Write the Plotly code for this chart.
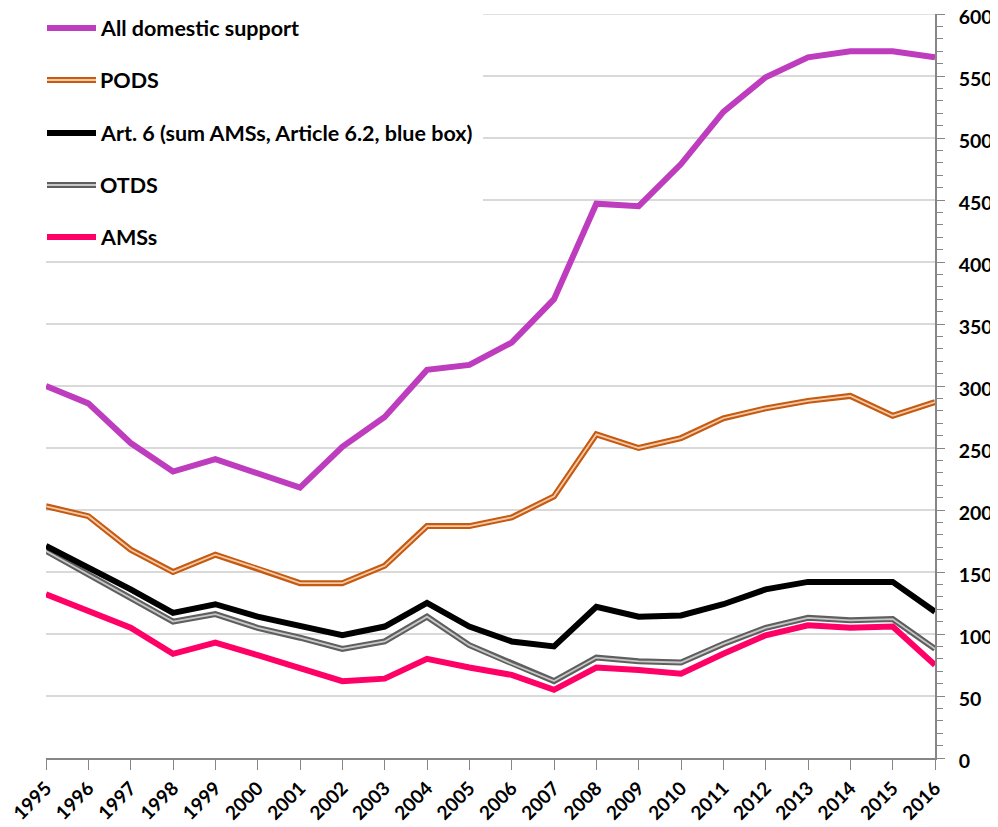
import plotly.graph_objects as go

years = list(range(1995, 2017))
all_domestic = [300, 286, 254, 231, 241, 229, 218, 251, 275, 313, 317, 335, 370, 447, 445, 479, 521, 549, 565, 570, 570, 565]
pods = [203, 195, 168, 150, 164, 153, 141, 141, 155, 187, 187, 194, 211, 261, 250, 258, 274, 282, 288, 292, 276, 287]
art6 = [171, 154, 136, 117, 124, 114, 106, 99, 106, 125, 106, 94, 90, 122, 114, 115, 124, 136, 142, 142, 142, 118]
otds = [167, 148, 129, 110, 116, 105, 97, 88, 94, 114, 91, 76, 62, 81, 78, 77, 92, 105, 113, 111, 112, 88]
amss = [132, 118, 105, 84, 93, 83, 73, 62, 64, 80, 73, 67, 55, 73, 71, 68, 84, 99, 107, 105, 106, 75]

names = ["All domestic support", "PODS", "Art. 6 (sum AMSs, Article 6.2, blue box)", "OTDS", "AMSs"]
colors = {"all": "#BE3CBE", "pods": "#C55A11", "pods_in": "#F6C9A8", "art6": "#000000",
          "otds": "#5F5F5F", "otds_in": "#C8C8C8", "amss": "#FF0066"}

FONT = "Lato"
OFF = 8  # page body margin of the browser
W, H = 998 - OFF, 827 - OFF
ml, mr, mt, mb = 46 - OFF, 63, 14 - OFF, 69
pw, ph = W - ml - mr, H - mt - mb
YMAX = 600

fig = go.Figure()

def line(y, color, width, name, show=False):
    fig.add_trace(go.Scatter(x=years, y=y, mode="lines", name=name, showlegend=show,
                             line=dict(color=color, width=width), hoverinfo="x+y+name"))

line(otds, colors["otds"], 6, names[3])
line(otds, colors["otds_in"], 1.8, names[3])
line(art6, colors["art6"], 6, names[2])
line(amss, colors["amss"], 6, names[4])
line(pods, colors["pods"], 6, names[1])
line(pods, colors["pods_in"], 1.8, names[1])
line(all_domestic, colors["all"], 6, names[0])

# manual legend (positions given in screen pixels)
def px2x(px):
    return (px - OFF - ml) / pw

def py2y(py):
    return (H - mb - (py - OFF)) / ph

shapes = [
    # top gridline (plotly omits the one on the plot edge)
    dict(type="line", xref="paper", yref="y", x0=0, x1=1, y0=YMAX, y1=YMAX,
         line=dict(color="#D9D9D9", width=1.5), layer="below"),
    # white legend background hiding the gridlines
    dict(type="rect", xref="paper", yref="paper", x0=px2x(46), x1=px2x(483),
         y0=py2y(258), y1=1.02, fillcolor="white", line=dict(width=0), layer="above"),
]
annotations = []
leg_y = [28, 80, 133, 185, 237]
leg_styles = [
    [(colors["all"], 6)],
    [(colors["pods"], 6), (colors["pods_in"], 1.8)],
    [(colors["art6"], 6)],
    [(colors["otds"], 6), (colors["otds_in"], 1.8)],
    [(colors["amss"], 6)],
]
for nm, yy, st in zip(names, leg_y, leg_styles):
    for c, w in st:
        shapes.append(dict(type="line", xref="paper", yref="paper", x0=px2x(47), x1=px2x(96),
                           y0=py2y(yy), y1=py2y(yy), line=dict(color=c, width=w), layer="above"))
    annotations.append(dict(text=nm, xref="paper", yref="paper", x=px2x(98), y=py2y(yy),
                            xanchor="left", yanchor="middle", showarrow=False,
                            font=dict(family=FONT, size=21.5, color="#000", weight="bold")))

fig.update_layout(
    width=W, height=H,
    margin=dict(l=ml, r=mr, t=mt, b=mb, autoexpand=False),
    plot_bgcolor="white", paper_bgcolor="white",
    showlegend=False,
    shapes=shapes, annotations=annotations,
    font=dict(family=FONT, size=20, color="#000"),
)
fig.update_xaxes(
    range=[1995, 2016], tickmode="array", tickvals=years, ticktext=[str(y) for y in years],
    tickangle=-45, ticks="outside", ticklen=10, tickcolor="#868686", tickwidth=1,
    showline=True, linecolor="#868686", linewidth=1.5, showgrid=False, zeroline=False,
    automargin=False, ticklabeloverflow="allow",
    tickfont=dict(family=FONT, size=19, color="#000", weight="bold"),
)
fig.update_yaxes(
    side="right", range=[0, YMAX], dtick=50, tick0=0, ticks="outside", ticklen=8,
    tickcolor="#868686", showline=True, linecolor="#868686", linewidth=1.5,
    showgrid=True, gridcolor="#D9D9D9", gridwidth=1.5, zeroline=False,
    minor=dict(dtick=10, ticks="outside", ticklen=6, tickcolor="#868686", showgrid=False),
    ticklabelstandoff=10, ticklabelshift=3, automargin=False, ticklabeloverflow="allow",
    tickfont=dict(family=FONT, size=19.5, color="#000", weight="bold"),
)

fig.write_html("out.html")
